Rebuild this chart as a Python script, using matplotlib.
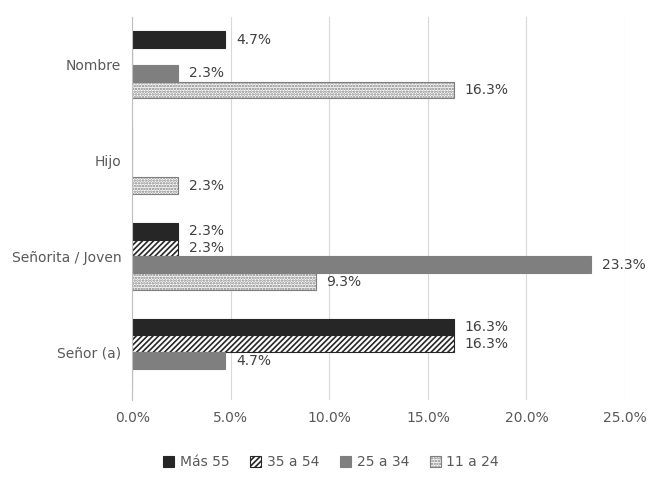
import matplotlib
matplotlib.use("Agg")
import matplotlib.pyplot as plt
import numpy as np

categories = ["Señor (a)", "Señorita / Joven", "Hijo", "Nombre"]
series = ["Más 55", "35 a 54", "25 a 34", "11 a 24"]
mas55 = [16.3, 2.3, None, 4.7]
a35_54 = [16.3, 2.3, None, None]
a25_34 = [4.7, 23.3, None, 2.3]
a11_24 = [None, 9.3, 2.3, 16.3]
xticks = [0, 5, 10, 15, 20, 25]

plt.rcParams["hatch.linewidth"] = 1.2
fig = plt.figure(figsize=(6.62, 4.82), dpi=100)
ax = fig.add_axes([0.2, 0.17, 0.744, 0.795])
styles = [
    dict(color="#262626", edgecolor="#262626"),
    dict(color="white", edgecolor="#262626", hatch="//////"),
    dict(color="#7f7f7f", edgecolor="#7f7f7f"),
    dict(color="white", edgecolor="#7f7f7f", hatch="......"),
]
h = 0.175
y = np.arange(len(categories))
offs = [1.5 * h, 0.5 * h, -0.5 * h, -1.5 * h]
for vals, name, st, off in zip([mas55, a35_54, a25_34, a11_24], series, styles, offs):
    v = [0 if x is None else x for x in vals]
    bars = ax.barh(y + off, v, height=h, label=name, linewidth=0.8, **st)
    for b, val in zip(bars, vals):
        if val is not None:
            ax.text(val + 0.55, b.get_y() + h / 2, f"{val:.1f}%", va="center",
                    ha="left", fontsize=10, color="#404040")
ax.set_ylim(-0.5, 3.5)
ax.set_xlim(0, 25)
ax.set_xticks(xticks)
ax.set_xticklabels([f"{t:.1f}%" for t in xticks], fontsize=10, color="#595959")
ax.set_yticks(y)
ax.set_yticklabels(categories, fontsize=10, color="#595959")
ax.tick_params(length=0, pad=8)
ax.grid(axis="x", color="#d9d9d9", linewidth=0.8)
ax.set_axisbelow(True)
for s in ["top", "right", "bottom"]:
    ax.spines[s].set_visible(False)
ax.spines["left"].set_color("#bfbfbf")
leg = fig.legend(loc="lower center", ncol=4, frameon=False, fontsize=10,
                 bbox_to_anchor=(0.5, 0.0), handlelength=0.8, handleheight=0.8,
                 columnspacing=1.5, handletextpad=0.4)
for t in leg.get_texts():
    t.set_color("#595959")
fig.savefig("out.png", dpi=100)
